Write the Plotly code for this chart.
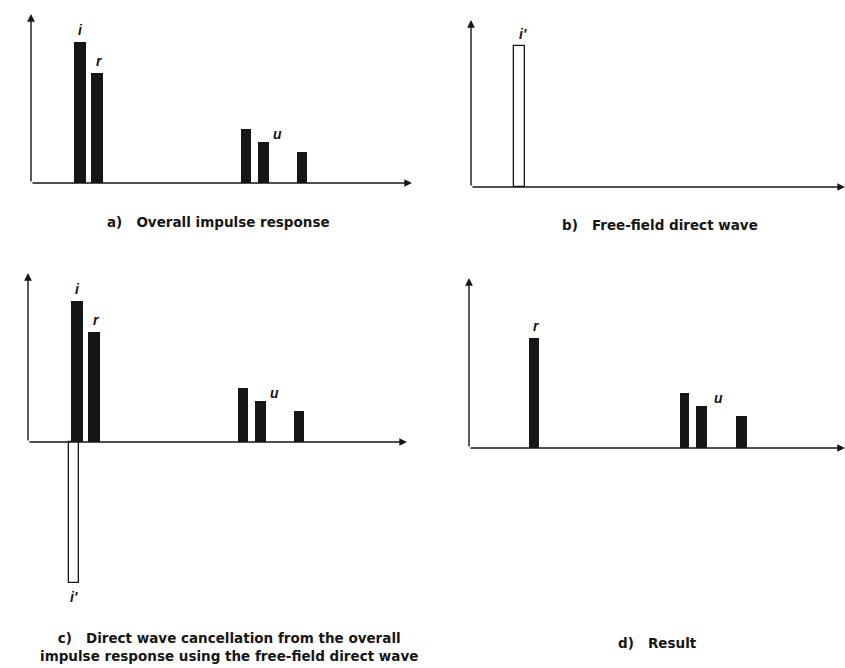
import plotly.graph_objects as go

# ---------------- data ----------------
# time positions (arbitrary units) and relative amplitudes
labels_all = ["i", "r", "u", "u", "u"]
t_overall = [4.9, 6.6, 21.5, 23.2, 27.1]
amp_overall = [1.0, 0.78, 0.38, 0.29, 0.22]
width_overall = [1.15, 1.15, 0.95, 1.1, 1.05]

t_direct_b = [4.85]          # free-field direct wave i'
amp_direct_b = [1.0]

t_direct_c = [4.6]           # i' drawn inverted in panel c
amp_direct_c = [-1.0]

t_result = [6.5, 21.55, 23.25, 27.25]
amp_result = [0.78, 0.39, 0.30, 0.23]
width_result = [1.05, 0.95, 1.1, 1.05]

captions = {
    "a": "a)   Overall impulse response",
    "b": "b)   Free-field direct wave",
    "c": "c)   Direct wave cancellation from the overall<br>impulse response using the free-field direct wave",
    "d": "d)   Result",
}

# ---------------- layout geometry (pixels) ----------------
W, H = 845, 668
PXX = 10.0   # px per time unit
PXY = 141.0  # px per amplitude unit

panels = {
    # x0, x1 (axis end), baseline, top, bottom
    "a": dict(x0=31, x1=412, base=183, top=14, bottom=183),
    "b": dict(x0=471, x1=845, base=187, top=20, bottom=187),
    "c": dict(x0=28, x1=407, base=442, top=273, bottom=600),
    "d": dict(x0=469, x1=845, base=448, top=278, bottom=448),
}

INK = "#161616"
fig = go.Figure()
annotations = []
layout_axes = {}

for k, name in enumerate(["a", "b", "c", "d"], start=1):
    p = panels[name]
    xs = "" if k == 1 else str(k)
    xmax = (p["x1"] - p["x0"]) / PXX
    ytop = (p["base"] - p["top"]) / PXY
    ybot = -(p["bottom"] - p["base"]) / PXY
    layout_axes["xaxis" + xs] = dict(
        domain=[p["x0"] / W, p["x1"] / W], range=[0, xmax], visible=False,
        anchor="y" + xs, fixedrange=True)
    layout_axes["yaxis" + xs] = dict(
        domain=[1 - p["bottom"] / H, 1 - p["top"] / H], range=[ybot, ytop],
        visible=False, anchor="x" + xs, fixedrange=True)
    p["xref"], p["yref"], p["xmax"], p["ytop"] = "x" + xs, "y" + xs, xmax, ytop

    # axes with arrowheads
    for (hx, hy) in [(xmax, 0), (0, ytop)]:
        annotations.append(dict(
            x=hx, y=hy, ax=0, ay=0, xref=p["xref"], yref=p["yref"],
            axref=p["xref"], ayref=p["yref"], showarrow=True, text="",
            arrowhead=2, arrowsize=1.1, arrowwidth=1.4, arrowcolor=INK, standoff=0))


def solid(name, t, a, w):
    p = panels[name]
    fig.add_trace(go.Bar(x=t, y=a, width=w, xaxis=p["xref"], yaxis=p["yref"],
                         marker=dict(color=INK, line=dict(width=0)),
                         showlegend=False, hoverinfo="skip"))


def hollow(name, t, a):
    p = panels[name]
    fig.add_trace(go.Bar(x=t, y=a, width=[1.05] * len(t), xaxis=p["xref"], yaxis=p["yref"],
                         marker=dict(color="white", line=dict(width=1.3, color=INK)),
                         showlegend=False, hoverinfo="skip"))


solid("a", t_overall, amp_overall, width_overall)
hollow("b", t_direct_b, amp_direct_b)
solid("c", t_overall, amp_overall, width_overall)
hollow("c", t_direct_c, amp_direct_c)
solid("d", t_result, amp_result, width_result)

LBL = dict(family="Liberation Sans, Arial, sans-serif", size=14, color=INK)


def lab(name, text, x, y, anchor="bottom", xshift=0, yshift=2):
    p = panels[name]
    annotations.append(dict(x=x, y=y, xref=p["xref"], yref=p["yref"], text=f"<b><i>{text}</i></b>",
                            showarrow=False, yanchor=anchor, xshift=xshift, yshift=yshift, font=LBL))


for name in ["a", "c"]:
    lab(name, "i", t_overall[0], amp_overall[0], xshift=0)
    lab(name, "r", t_overall[1], amp_overall[1], xshift=2)
    lab(name, "u", (t_overall[3] + t_overall[4]) / 2 - 0.5, amp_overall[3], yshift=-2)
lab("b", "i'", t_direct_b[0], amp_direct_b[0], xshift=3)
lab("c", "i'", t_direct_c[0], amp_direct_c[0], anchor="top", yshift=-4)
lab("d", "r", t_result[0], amp_result[0], xshift=2)
lab("d", "u", (t_result[2] + t_result[3]) / 2 - 0.3, amp_result[2], yshift=-2)

CAP = dict(family="DejaVu Sans, Liberation Sans, sans-serif", size=13.5, color=INK)
cap_pos = {"a": (218, 222), "b": (660, 225), "c": (229, 647), "d": (657, 643)}
for name, (cx, cy) in cap_pos.items():
    annotations.append(dict(x=cx / W, y=1 - cy / H, xref="paper", yref="paper",
                            text=f"<b>{captions[name]}</b>", showarrow=False,
                            xanchor="center", yanchor="middle", font=CAP, align="center"))

fig.update_layout(
    width=W, height=H, margin=dict(l=0, r=0, t=0, b=0),
    paper_bgcolor="white", plot_bgcolor="white",
    barmode="overlay", bargap=0, annotations=annotations, **layout_axes)

fig.write_html("out.html", config={"displayModeBar": False})
